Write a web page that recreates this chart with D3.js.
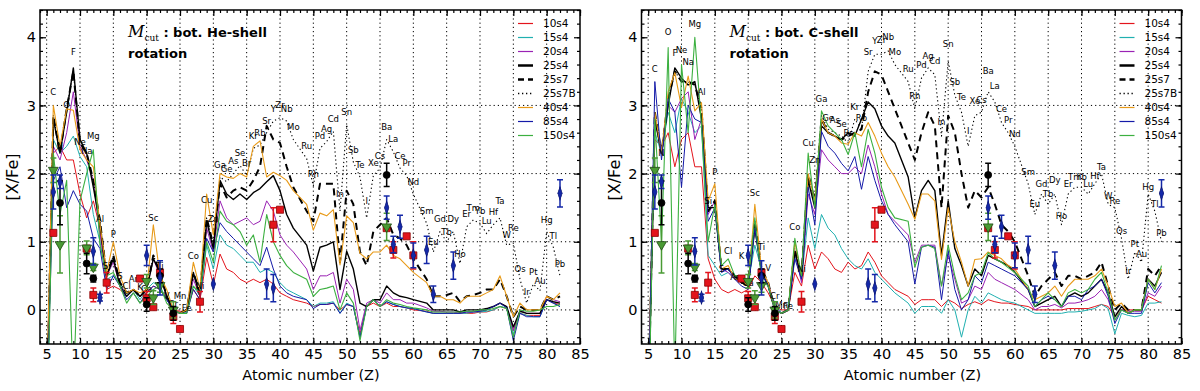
<!DOCTYPE html>
<html>
<head>
<meta charset="utf-8">
<script src="https://cdn.jsdelivr.net/npm/d3@7"></script>
<style>
body{margin:0;background:#fff;}
</style>
</head>
<body>
<div id="chart"></div>
<script>
// atomic numbers of the model points (Tc and Pm are not in the yields)
var atomicZ = d3.range(5, 43).concat(d3.range(44, 61), d3.range(62, 83));
var elementSymbols = ["B","C","N","O","F","Ne","Na","Mg","Al","Si",
  "P","S","Cl","Ar","K","Ca","Sc","Ti","V","Cr",
  "Mn","Fe","Co","Ni","Cu","Zn","Ga","Ge","As","Se",
  "Br","Kr","Rb","Sr","Y","Zr","Nb","Mo",
  "Ru","Rh","Pd","Ag","Cd","In","Sn","Sb","Te","I","Xe",
  "Cs","Ba","La","Ce","Pr","Nd",
  "Sm","Eu","Gd","Tb","Dy","Ho","Er","Tm","Yb","Lu","Hf","Ta","W",
  "Re","Os","Ir","Pt","Au","Hg","Tl","Pb"];

var modelNames = ["10s4","15s4","20s4","25s4","25s7","25s7B","40s4","85s4","150s4"];
var xTicks = [5,10,15,20,25,30,35,40,45,50,55,60,65,70,75,80,85];
var yTicks = [0,1,2,3,4];

// ---- [X/Fe], M_cut at bottom of He-shell ----
var he10s4 = [-1.5,2.3,2.4,2.2,2.2,1.7,1.35,1.6,1.2,0.3,
  0.35,0.3,0.2,0.3,0.2,0.25,0.35,0.3,0.15,0.0,
  -0.02,-0.02,0.3,0.15,0.77,0.37,0.82,0.6,0.55,0.45,
  0.4,0.45,0.4,0.45,0.38,0.25,0.2,0.15,
  0.1,0.05,0.08,0.08,0.1,0.0,0.08,0.05,-0.35,0.05,0.1,
  0.05,0.1,0.05,0.05,0.03,0.0,
  -0.02,-0.05,-0.05,-0.05,-0.05,-0.05,-0.05,-0.05,-0.03,-0.03,0.0,0.05,0.02,
  -0.3,-0.05,-0.08,-0.08,-0.08,0.15,0.1,0.08];
var he15s4 = [-1.8,2.5,2.3,2.4,2.55,2.25,2.1,1.4,1.0,0.45,
  0.5,0.4,0.2,0.3,0.15,0.3,0.4,0.35,0.15,0.0,
  -0.05,-0.03,0.35,0.2,0.95,0.6,1.1,0.95,0.9,0.8,
  0.7,0.7,0.55,0.6,0.55,0.4,0.3,0.25,
  0.15,0.05,0.1,0.1,0.12,-0.05,0.1,0.05,-0.4,0.05,0.15,
  0.05,0.12,0.08,0.05,0.03,0.02,
  -0.03,-0.05,-0.05,-0.05,-0.05,-0.05,-0.05,-0.03,-0.03,-0.02,0.0,0.05,0.03,
  -0.35,-0.05,-0.08,-0.1,-0.1,0.15,0.1,0.05];
var he20s4 = [-1.5,2.4,2.2,2.6,3.2,2.4,2.2,1.9,1.1,0.5,
  0.7,0.35,0.25,0.3,0.2,0.3,0.75,0.5,0.2,0.0,
  -0.05,-0.05,0.45,0.2,1.2,0.85,1.6,1.35,1.25,1.3,
  1.35,1.25,1.3,1.6,1.45,1.1,0.95,0.85,
  0.6,0.3,0.5,0.5,0.55,0.1,0.45,0.3,-0.3,0.1,0.15,
  0.1,0.25,0.15,0.15,0.1,0.1,
  0.03,-0.02,-0.02,-0.03,-0.03,-0.05,-0.03,-0.03,0.0,0.0,0.05,0.1,0.05,
  -0.3,0.0,-0.05,-0.05,-0.05,0.2,0.15,0.12];
var he25s4 = [-1.5,2.8,2.3,2.9,3.55,2.5,2.3,1.8,1.25,0.5,
  0.75,0.35,0.2,0.3,0.2,0.3,0.75,0.55,0.2,0.0,
  -0.05,0.0,0.55,0.2,1.3,0.9,1.9,1.7,1.62,1.7,
  1.62,1.72,1.78,1.88,1.97,1.75,1.4,1.2,
  0.95,0.57,0.92,0.95,1.0,0.3,0.86,0.6,0.1,0.05,0.15,
  0.15,0.35,0.25,0.2,0.18,0.15,
  0.1,0.0,0.0,0.0,0.0,-0.03,0.0,0.0,0.0,0.02,0.05,0.1,0.05,
  -0.25,-0.02,-0.05,-0.05,-0.05,0.15,0.12,0.1];
var he25s7 = [-1.5,2.85,2.3,2.95,3.5,2.45,2.3,1.9,1.3,0.5,
  0.8,0.4,0.25,0.3,0.2,0.3,0.8,0.55,0.2,0.0,
  -0.05,0.0,0.55,0.25,1.35,0.95,1.85,1.65,1.75,1.8,
  1.75,1.9,2.1,2.7,2.5,2.45,2.1,1.8,
  1.45,1.3,1.85,1.85,1.85,0.7,1.75,1.55,0.85,0.65,1.15,
  1.25,1.35,1.1,1.05,0.95,0.75,
  0.45,0.2,0.2,0.22,0.25,0.12,0.2,0.22,0.25,0.3,0.3,0.45,0.2,
  -0.1,0.05,0.0,0.0,0.0,0.2,0.15,0.2];
var he25s7B = [-1.5,2.85,2.3,2.95,3.5,2.45,2.3,1.9,1.3,0.5,
  0.8,0.4,0.25,0.3,0.2,0.3,0.8,0.55,0.2,0.0,
  -0.05,0.0,0.55,0.25,1.35,0.95,1.95,1.88,2.0,2.12,
  1.97,2.37,2.42,2.6,2.77,2.82,2.77,2.5,
  2.22,1.82,2.37,2.47,2.62,1.45,2.72,2.17,1.95,1.35,1.97,
  2.08,2.5,2.32,2.08,1.97,1.7,
  1.27,0.85,1.15,1.0,1.15,0.68,1.22,1.32,1.27,1.12,1.25,1.35,0.95,
  0.98,0.45,0.1,0.38,0.28,1.15,0.92,0.5];
var he40s4 = [-1.2,3.0,2.4,2.95,2.93,2.35,2.2,2.1,1.25,0.55,
  1.0,0.5,0.25,0.3,0.25,0.3,1.25,0.5,0.3,0.0,
  -0.05,0.0,0.7,0.3,1.7,1.1,2.0,1.95,1.93,2.0,
  1.95,2.4,2.48,1.95,2.02,1.97,1.9,1.75,
  1.55,1.17,1.42,1.38,1.47,0.66,1.38,1.28,0.83,0.75,0.85,
  0.85,0.95,0.8,0.75,0.65,0.55,
  0.4,0.2,0.2,0.15,0.15,0.1,0.2,0.2,0.2,0.25,0.3,0.5,0.2,
  -0.1,0.1,0.0,0.0,0.0,0.2,0.15,0.25];
var he85s4 = [-1.5,1.9,2.1,1.5,1.75,1.55,1.45,1.05,0.9,0.3,
  0.5,0.35,0.15,0.25,0.1,0.25,0.35,0.3,0.15,0.0,
  -0.05,-0.05,0.3,0.15,1.05,0.85,1.28,1.15,1.05,0.95,
  0.85,0.75,0.65,0.92,0.6,0.35,0.25,0.2,
  0.15,0.02,0.08,0.08,0.1,-0.05,0.08,0.05,-0.4,0.05,0.15,
  0.05,0.12,0.08,0.05,0.03,0.02,
  -0.03,-0.05,-0.05,-0.05,-0.05,-0.05,-0.03,-0.03,-0.02,0.0,0.05,0.1,0.03,
  -0.45,-0.05,-0.1,-0.1,-0.1,0.15,0.1,0.05];
var he150s4 = [-2.0,2.3,1.4,1.9,-1.2,1.6,2.0,2.35,0.95,0.5,
  0.55,0.35,0.1,0.25,0.1,0.2,0.3,0.35,0.1,0.0,
  -0.05,-0.05,0.35,0.25,1.0,0.7,1.45,1.3,1.25,1.15,
  0.95,1.1,0.7,1.4,1.0,0.8,0.65,0.55,
  0.45,0.2,0.3,0.32,0.35,0.0,0.25,0.1,-0.45,0.05,0.15,
  0.05,0.15,0.1,0.08,0.05,0.03,
  0.0,-0.03,-0.03,-0.03,-0.03,-0.03,-0.02,-0.02,0.0,0.0,0.02,0.05,0.02,
  -0.4,0.0,-0.02,-0.02,0.0,0.05,0.05,0.08];

// ---- [X/Fe], M_cut at bottom of C-shell ----
var c10s4 = [-1.5,2.5,2.4,2.6,2.1,2.5,2.6,2.1,2.1,0.75,
  0.45,0.3,0.25,0.3,0.25,0.3,0.5,0.4,0.25,0.05,
  0.0,0.0,0.55,0.35,0.95,0.6,0.85,0.75,0.6,0.55,
  0.7,0.6,0.65,0.85,0.7,0.5,0.4,0.3,
  0.2,0.08,0.15,0.15,0.15,0.05,0.15,0.1,0.02,0.08,0.12,
  0.08,0.15,0.12,0.1,0.1,0.08,
  0.05,0.0,0.0,0.0,0.0,0.0,0.02,0.02,0.02,0.02,0.05,0.08,0.05,
  -0.1,0.0,0.0,0.0,0.0,0.2,0.15,0.1];
var c15s4 = [-1.5,2.6,2.3,2.9,2.6,3.1,2.9,2.6,2.7,0.8,
  0.65,0.5,0.55,0.45,0.4,0.4,0.95,0.6,0.35,0.1,
  -0.05,0.0,0.8,0.45,1.35,0.9,1.4,1.2,1.1,0.9,
  0.75,0.65,0.6,0.75,0.55,0.45,0.35,0.25,
  0.1,-0.05,0.05,0.05,0.05,-0.05,0.15,0.0,-0.4,0.0,0.2,
  0.1,0.25,0.2,0.15,0.12,0.1,
  0.0,-0.05,-0.05,-0.05,-0.05,-0.05,-0.03,-0.03,-0.02,0.0,0.02,0.08,0.02,
  -0.35,-0.05,-0.08,-0.1,-0.08,0.1,0.1,0.12];
var c20s4 = [-1.5,2.8,2.3,3.0,2.9,3.1,3.2,2.5,2.8,1.4,
  1.6,0.6,0.55,0.45,0.4,0.35,1.3,0.55,0.4,0.05,
  -0.05,0.0,0.85,0.4,1.7,1.4,2.35,2.2,2.1,2.0,
  2.0,2.1,2.0,2.42,2.1,1.7,1.4,1.3,
  1.1,0.7,0.95,0.95,0.95,0.35,0.8,0.45,0.1,0.15,0.35,
  0.3,0.55,0.45,0.4,0.35,0.3,
  0.15,0.0,0.05,0.05,0.08,0.03,0.1,0.1,0.12,0.15,0.2,0.3,0.15,
  -0.15,0.0,-0.02,-0.02,-0.02,0.25,0.2,0.35];
var c25s4 = [-1.5,2.8,2.3,3.0,3.55,3.4,3.3,3.35,2.8,1.5,
  1.5,0.6,0.6,0.5,0.4,0.35,1.2,0.55,0.35,0.0,
  -0.05,0.0,0.85,0.5,1.9,1.5,2.7,2.6,2.55,2.5,
  2.6,2.55,2.8,3.05,2.95,2.7,2.55,2.45,
  1.95,1.35,1.75,1.9,1.75,0.8,1.6,0.9,0.65,0.35,0.6,
  0.5,0.8,0.75,0.7,0.65,0.55,
  0.3,0.05,0.1,0.15,0.2,0.05,0.2,0.25,0.2,0.25,0.35,0.45,0.25,
  -0.1,0.05,-0.05,0.0,0.0,0.45,0.35,0.55];
var c25s7 = [-1.5,2.9,2.3,3.1,3.5,3.35,3.35,3.3,2.95,1.45,
  1.6,0.6,0.6,0.5,0.4,0.4,1.3,0.6,0.4,0.0,
  -0.05,0.0,0.9,0.5,2.0,1.6,2.8,2.6,2.55,2.5,
  2.55,2.6,2.65,3.2,3.5,3.45,3.2,2.95,
  2.45,2.2,2.6,2.9,2.7,1.5,2.85,2.6,2.0,1.5,1.75,
  1.65,1.8,1.55,1.25,1.15,1.0,
  0.5,0.2,0.35,0.45,0.55,0.35,0.5,0.5,0.45,0.5,0.55,0.7,0.35,
  0.0,0.1,0.0,0.0,0.0,0.6,0.5,0.65];
var c25s7B = [-1.5,2.9,2.3,3.1,3.5,3.35,3.35,3.3,2.95,1.45,
  1.6,0.6,0.6,0.5,0.4,0.4,1.3,0.6,0.4,0.0,
  -0.05,0.0,0.9,0.5,2.0,1.6,2.85,2.65,2.6,2.55,
  2.45,2.8,2.65,3.5,3.75,3.75,3.8,3.6,
  3.35,2.95,3.4,3.55,3.45,2.55,3.65,3.15,2.9,2.4,2.85,
  2.9,3.2,3.05,2.75,2.6,2.4,
  1.85,1.4,1.7,1.55,1.7,1.25,1.7,1.8,1.8,1.7,1.85,2.0,1.55,
  1.5,1.05,0.45,0.85,0.7,1.7,1.45,1.0];
var c40s4 = [-1.2,2.9,2.3,3.2,3.48,2.97,3.43,2.92,3.04,1.6,
  1.85,0.6,0.65,0.45,0.45,0.35,1.55,0.6,0.4,0.0,
  -0.05,0.0,1.0,0.5,2.0,1.6,2.8,2.6,2.55,2.45,
  2.43,2.6,2.55,2.75,2.55,2.3,2.1,1.95,
  1.55,1.33,1.7,1.7,1.6,0.74,1.5,1.0,0.7,0.35,0.74,
  0.75,0.85,0.8,0.75,0.65,0.6,
  0.3,0.15,0.2,0.25,0.35,0.2,0.35,0.45,0.45,0.45,0.5,0.6,0.35,
  0.05,0.1,-0.05,0.0,0.0,0.45,0.3,0.6];
var c85s4 = [-1.5,3.35,2.2,3.1,2.9,1.8,3.0,2.8,2.75,1.3,
  1.5,0.55,0.6,0.45,0.35,0.3,1.2,0.55,0.35,0.0,
  -0.05,0.0,0.75,0.45,1.8,1.25,2.62,2.4,2.3,2.15,
  2.04,2.25,1.77,2.25,1.9,1.6,1.4,1.25,
  1.0,0.38,0.92,0.95,0.92,0.15,0.87,0.3,0.0,0.15,0.5,
  0.4,0.7,0.65,0.6,0.55,0.5,
  0.3,0.05,0.15,0.2,0.15,0.05,0.2,0.2,0.15,0.3,0.35,0.45,0.2,
  -0.2,0.0,-0.05,-0.05,-0.05,0.4,0.25,0.4];
var c150s4 = [-2.0,2.8,1.0,3.85,-1.0,3.6,2.6,4.0,2.7,1.0,
  1.55,0.65,0.75,0.5,0.5,0.4,1.35,0.45,0.35,0.0,
  -0.05,0.0,1.05,0.5,2.3,1.5,2.92,2.7,2.6,2.5,
  2.28,2.6,2.1,2.65,2.3,1.8,1.5,1.35,
  1.3,0.63,0.92,0.95,0.9,0.35,0.95,0.5,0.15,0.25,0.5,
  0.55,0.84,0.75,0.7,0.62,0.55,
  0.35,0.05,0.15,0.25,0.15,0.05,0.25,0.3,0.25,0.3,0.45,0.55,0.25,
  -0.15,0.0,-0.05,0.0,0.0,0.45,0.3,0.65];

// heights of the element name labels in each panel (aligned with atomicZ)
var labelHe = [null,3.19,2.4,3.0,3.78,2.46,2.33,2.55,1.34,0.65,
  1.11,0.5,0.35,0.46,0.33,0.3,1.35,0.65,0.2,0.08,
  0.2,0.03,0.79,0.35,1.61,1.33,2.13,2.06,2.18,2.3,
  2.15,2.55,2.6,2.77,2.94,3.0,2.94,2.68,
  2.4,2.0,2.55,2.65,2.8,1.7,2.9,2.35,2.13,1.6,2.15,
  2.26,2.68,2.5,2.26,2.15,1.88,
  1.45,1.0,1.33,1.15,1.33,0.82,1.4,1.5,1.45,1.3,1.43,1.6,1.1,
  1.2,0.6,0.26,0.55,0.43,1.32,1.08,0.67];
var labelC = [null,3.53,2.3,4.08,3.77,3.81,3.64,4.2,3.2,1.6,
  2.03,0.6,0.87,0.48,0.79,0.4,1.72,0.92,0.61,0.2,
  0.07,0.06,1.21,0.6,2.45,2.2,3.09,2.82,2.78,2.72,
  2.6,2.97,2.82,3.78,3.94,3.96,4.0,3.78,
  3.53,3.14,3.6,3.72,3.65,2.75,3.9,3.34,3.12,2.62,3.06,
  3.08,3.5,3.28,2.94,2.78,2.58,
  2.03,1.55,1.85,1.7,1.9,1.38,1.85,1.95,1.95,1.85,1.96,2.1,1.67,
  1.6,1.16,0.57,0.96,0.82,1.8,1.55,1.13];

// observed stars: [Z, [X/Fe], error]
var obsRed = [[6,1.13,0],[11,0.9,0],[12,0.22,0.1],[14,0.4,0.15],[19,0.46,0],[20,0.17,0.1],
  [21,0.04,0],[22,0.55,0],[24,-0.1,0.1],[25,-0.28,0],[28,0.12,0.15],[39,1.25,0.25],
  [40,1.47,0],[56,1.2,0],[57,0.88,0.12],[59,1.08,0],[60,0.8,0.2]];
var obsGreen = [[6,2.05,0.18],[7,0.96,0.42],[11,0.91,0.1],[12,0.63,0.05],[20,0.42,0.1],
  [21,0.18,0.1],[22,0.36,0.1],[24,0.0,0.12],[56,1.22,0.2]];
var obsBlack = [[7,1.57,0.32],[11,0.68,0.15],[12,0.46,0.05],[20,0.08,0.1],[22,0.5,0.1],
  [24,-0.05,0.1],[56,1.98,0.17]];
var obsBlue = [[6,1.73,0.25],[7,1.88,0.1],[12,0.86,0.2],[13,0.18,0.05],[20,0.8,0.15],
  [22,0.47,0.25],[30,0.38,0],[38,0.38,0.22],[39,0.32,0.2],[56,1.5,0.17],[57,0.96,0.12],
  [58,1.22,0.17],[60,0.8,0.18],[62,0.88,0.2],[63,0.23,0.12],[66,0.65,0.2],[82,1.71,0.2]];

var lineStyles = {
  "10s4":  {color:"#e3141c", width:1,   dash:null},
  "15s4":  {color:"#20b0b0", width:1,   dash:null},
  "20s4":  {color:"#9a22b4", width:1,   dash:null},
  "25s4":  {color:"#000",    width:1.4, dash:null},
  "25s7":  {color:"#000",    width:2,   dash:"7,5"},
  "25s7B": {color:"#000",    width:1.1, dash:"1.3,2.7"},
  "40s4":  {color:"#e89a18", width:1.1, dash:null},
  "85s4":  {color:"#141aa8", width:1,   dash:null},
  "150s4": {color:"#3cb040", width:1.1, dash:null}
};

var panels = [
  {left:40, right:580, shell:"He", values:[he10s4,he15s4,he20s4,he25s4,he25s7,he25s7B,he40s4,he85s4,he150s4], labels:labelHe},
  {left:641.5, right:1181.5, shell:"C", values:[c10s4,c15s4,c20s4,c25s4,c25s7,c25s7B,c40s4,c85s4,c150s4], labels:labelC}
];
var plotTop = 10, plotBottom = 344;
var font = "'DejaVu Sans', sans-serif";

var svg = d3.select("#chart").append("svg")
  .attr("width", 1200).attr("height", 391)
  .style("font-family", font);

panels.forEach(function(p, pi){
  var x = d3.scaleLinear().domain([4, 85]).range([p.left, p.right]);
  var y = d3.scaleLinear().domain([-0.5, 4.4]).range([plotBottom, plotTop]);
  var g = svg.append("g");

  var clipId = "clip" + pi;
  svg.append("clipPath").attr("id", clipId).append("rect")
    .attr("x", p.left).attr("y", plotTop).attr("width", p.right - p.left).attr("height", plotBottom - plotTop);

  //---------------------------------------------------------------------
  // dotted grid
  g.selectAll(".vgrid").data(d3.range(5, 85, 5)).enter().append("line")
    .attr("x1", function(d){ return x(d); }).attr("x2", function(d){ return x(d); })
    .attr("y1", plotTop).attr("y2", plotBottom)
    .attr("stroke", "#000").attr("stroke-width", 1).attr("stroke-dasharray", "1.2,3");
  g.selectAll(".hgrid").data([0,1,2,3]).enter().append("line")
    .attr("x1", p.left).attr("x2", p.right)
    .attr("y1", function(d){ return y(d); }).attr("y2", function(d){ return y(d); })
    .attr("stroke", "#000").attr("stroke-width", 1).attr("stroke-dasharray", "1.2,3");

  //---------------------------------------------------------------------
  // model curves
  var line = d3.line()
    .x(function(d){ return x(d[0]); })
    .y(function(d){ return y(d[1]); });
  var curves = g.append("g").attr("clip-path", "url(#" + clipId + ")");
  modelNames.forEach(function(name, i){
    var st = lineStyles[name];
    var pts = atomicZ.map(function(z, k){ return [z, p.values[i][k]]; });
    curves.append("path").datum(pts)
      .attr("d", line)
      .attr("fill", "none")
      .attr("stroke", st.color)
      .attr("stroke-width", st.width)
      .attr("stroke-dasharray", st.dash)
      .attr("stroke-linejoin", "round");
  });

  //---------------------------------------------------------------------
  // element names
  var lab = atomicZ.map(function(z, k){ return {z:z, s:elementSymbols[k], v:p.labels[k]}; })
    .filter(function(d){ return d.v !== null; });
  g.selectAll(".el").data(lab).enter().append("text")
    .attr("x", function(d){ return x(d.z); })
    .attr("y", function(d){ return y(d.v); })
    .attr("dy", "0.35em")
    .attr("text-anchor", "middle")
    .attr("font-size", "8.5px")
    .attr("fill", "#000")
    .text(function(d){ return d.s; });

  //---------------------------------------------------------------------
  // observations with error bars
  var obsSets = [
    {data:obsRed, color:"#e3141c", edge:"#8a0000", shape:d3.symbolSquare, size:50, tri:false},
    {data:obsGreen, color:"#4a9a34", edge:"#1f4a14", shape:d3.symbolTriangle, size:42, tri:true},
    {data:obsBlack, color:"#000", edge:"#000", shape:d3.symbolCircle, size:38, tri:false},
    {data:obsBlue, color:"#1428a8", edge:"#0a1470", shape:d3.symbolDiamond, size:30, tri:false}
  ];
  obsSets.forEach(function(o){
    var og = g.append("g");
    var withErr = o.data.filter(function(d){ return d[2] > 0; });
    og.selectAll(".eb").data(withErr).enter().append("path")
      .attr("d", function(d){
        var cx = x(d[0]), y1 = y(d[1] + d[2]), y2 = y(d[1] - d[2]);
        return "M" + cx + "," + y1 + "V" + y2 +
          "M" + (cx - 3) + "," + y1 + "H" + (cx + 3) +
          "M" + (cx - 3) + "," + y2 + "H" + (cx + 3);
      })
      .attr("stroke", o.color).attr("stroke-width", 1.5).attr("fill", "none");
    og.selectAll(".mk").data(o.data).enter().append("path")
      .attr("d", d3.symbol().type(o.shape).size(o.size))
      .attr("transform", function(d){
        return "translate(" + x(d[0]) + "," + y(d[1]) + ")" + (o.tri ? " rotate(180)" : "") +
          (o.shape === d3.symbolDiamond ? " scale(0.75,1.3)" : "");
      })
      .attr("fill", o.color).attr("stroke", o.edge).attr("stroke-width", 0.8);
  });

  //---------------------------------------------------------------------
  // axes with inward ticks
  var ax = g.append("g").attr("font-family", font);
  ax.append("g").attr("transform", "translate(0," + plotBottom + ")")
    .call(d3.axisBottom(x).tickValues(xTicks).tickSize(-6).tickPadding(5).tickFormat(d3.format("d")));
  ax.append("g").attr("transform", "translate(0," + plotBottom + ")")
    .call(d3.axisBottom(x).tickValues(d3.range(4, 86)).tickSize(-3).tickFormat(""));
  ax.append("g").attr("transform", "translate(0," + plotTop + ")")
    .call(d3.axisTop(x).tickValues(xTicks).tickSize(-6).tickFormat(""));
  ax.append("g").attr("transform", "translate(0," + plotTop + ")")
    .call(d3.axisTop(x).tickValues(d3.range(4, 86)).tickSize(-3).tickFormat(""));
  ax.append("g").attr("transform", "translate(" + p.left + ",0)")
    .call(d3.axisLeft(y).tickValues(yTicks).tickSize(-6).tickPadding(4).tickFormat(d3.format("d")));
  ax.append("g").attr("transform", "translate(" + p.left + ",0)")
    .call(d3.axisLeft(y).tickValues(d3.range(-0.4, 4.4, 0.2)).tickSize(-3).tickFormat(""));
  ax.append("g").attr("transform", "translate(" + p.right + ",0)")
    .call(d3.axisRight(y).tickValues(yTicks).tickSize(-6).tickFormat(""));
  ax.append("g").attr("transform", "translate(" + p.right + ",0)")
    .call(d3.axisRight(y).tickValues(d3.range(-0.4, 4.4, 0.2)).tickSize(-3).tickFormat(""));
  ax.selectAll(".domain").remove();
  ax.selectAll(".tick line").attr("stroke", "#000").attr("stroke-width", 1.2);
  ax.selectAll(".tick text").attr("font-size", "14.5px").attr("font-family", font).attr("fill", "#000");

  g.append("rect")
    .attr("x", p.left).attr("y", plotTop).attr("width", p.right - p.left).attr("height", plotBottom - plotTop)
    .attr("fill", "none").attr("stroke", "#000").attr("stroke-width", 1.5);

  // axis titles
  g.append("text")
    .attr("x", (p.left + p.right) / 2 + 1).attr("y", 380)
    .attr("text-anchor", "middle").attr("font-size", "14.5px")
    .text("Atomic number (Z)");
  g.append("text")
    .attr("transform", "translate(" + (p.left - 22) + "," + ((plotTop + plotBottom) / 2) + ") rotate(-90)")
    .attr("text-anchor", "middle").attr("font-size", "16px")
    .text("[X/Fe]");

  //---------------------------------------------------------------------
  // annotation
  var ann = g.append("text").attr("x", p.left + 88).attr("y", 37).attr("font-size", "14px");
  ann.append("tspan").attr("font-family", "'DejaVu Serif', serif").attr("font-style", "italic")
    .attr("font-size", "16px").text("M");
  ann.append("tspan").attr("font-family", "'DejaVu Serif', serif").attr("font-size", "9px")
    .attr("dy", 4).text("cut");
  ann.append("tspan").attr("dy", -4).attr("font-weight", "bold").attr("font-size", "13px")
    .text(" : bot. " + p.shell + "-shell");
  g.append("text").attr("x", p.left + 88).attr("y", 58)
    .attr("font-size", "13px").attr("font-weight", "bold").text("rotation");

  //---------------------------------------------------------------------
  // legend
  var leg = g.append("g");
  modelNames.forEach(function(name, i){
    var st = lineStyles[name];
    var ly = 23.5 + i * 14;
    leg.append("line")
      .attr("x1", p.right - 62).attr("x2", p.right - 47)
      .attr("y1", ly).attr("y2", ly)
      .attr("stroke", st.color)
      .attr("stroke-width", name === "25s4" || name === "25s7" ? 2.5 : (name === "25s7B" ? 1.3 : 1.2))
      .attr("stroke-dasharray", name === "25s7" ? "6,4" : st.dash);
    leg.append("text")
      .attr("x", p.right - 37).attr("y", ly).attr("dy", "0.35em")
      .attr("font-size", "10.5px").text(name);
  });
});
</script>
</body>
</html>
